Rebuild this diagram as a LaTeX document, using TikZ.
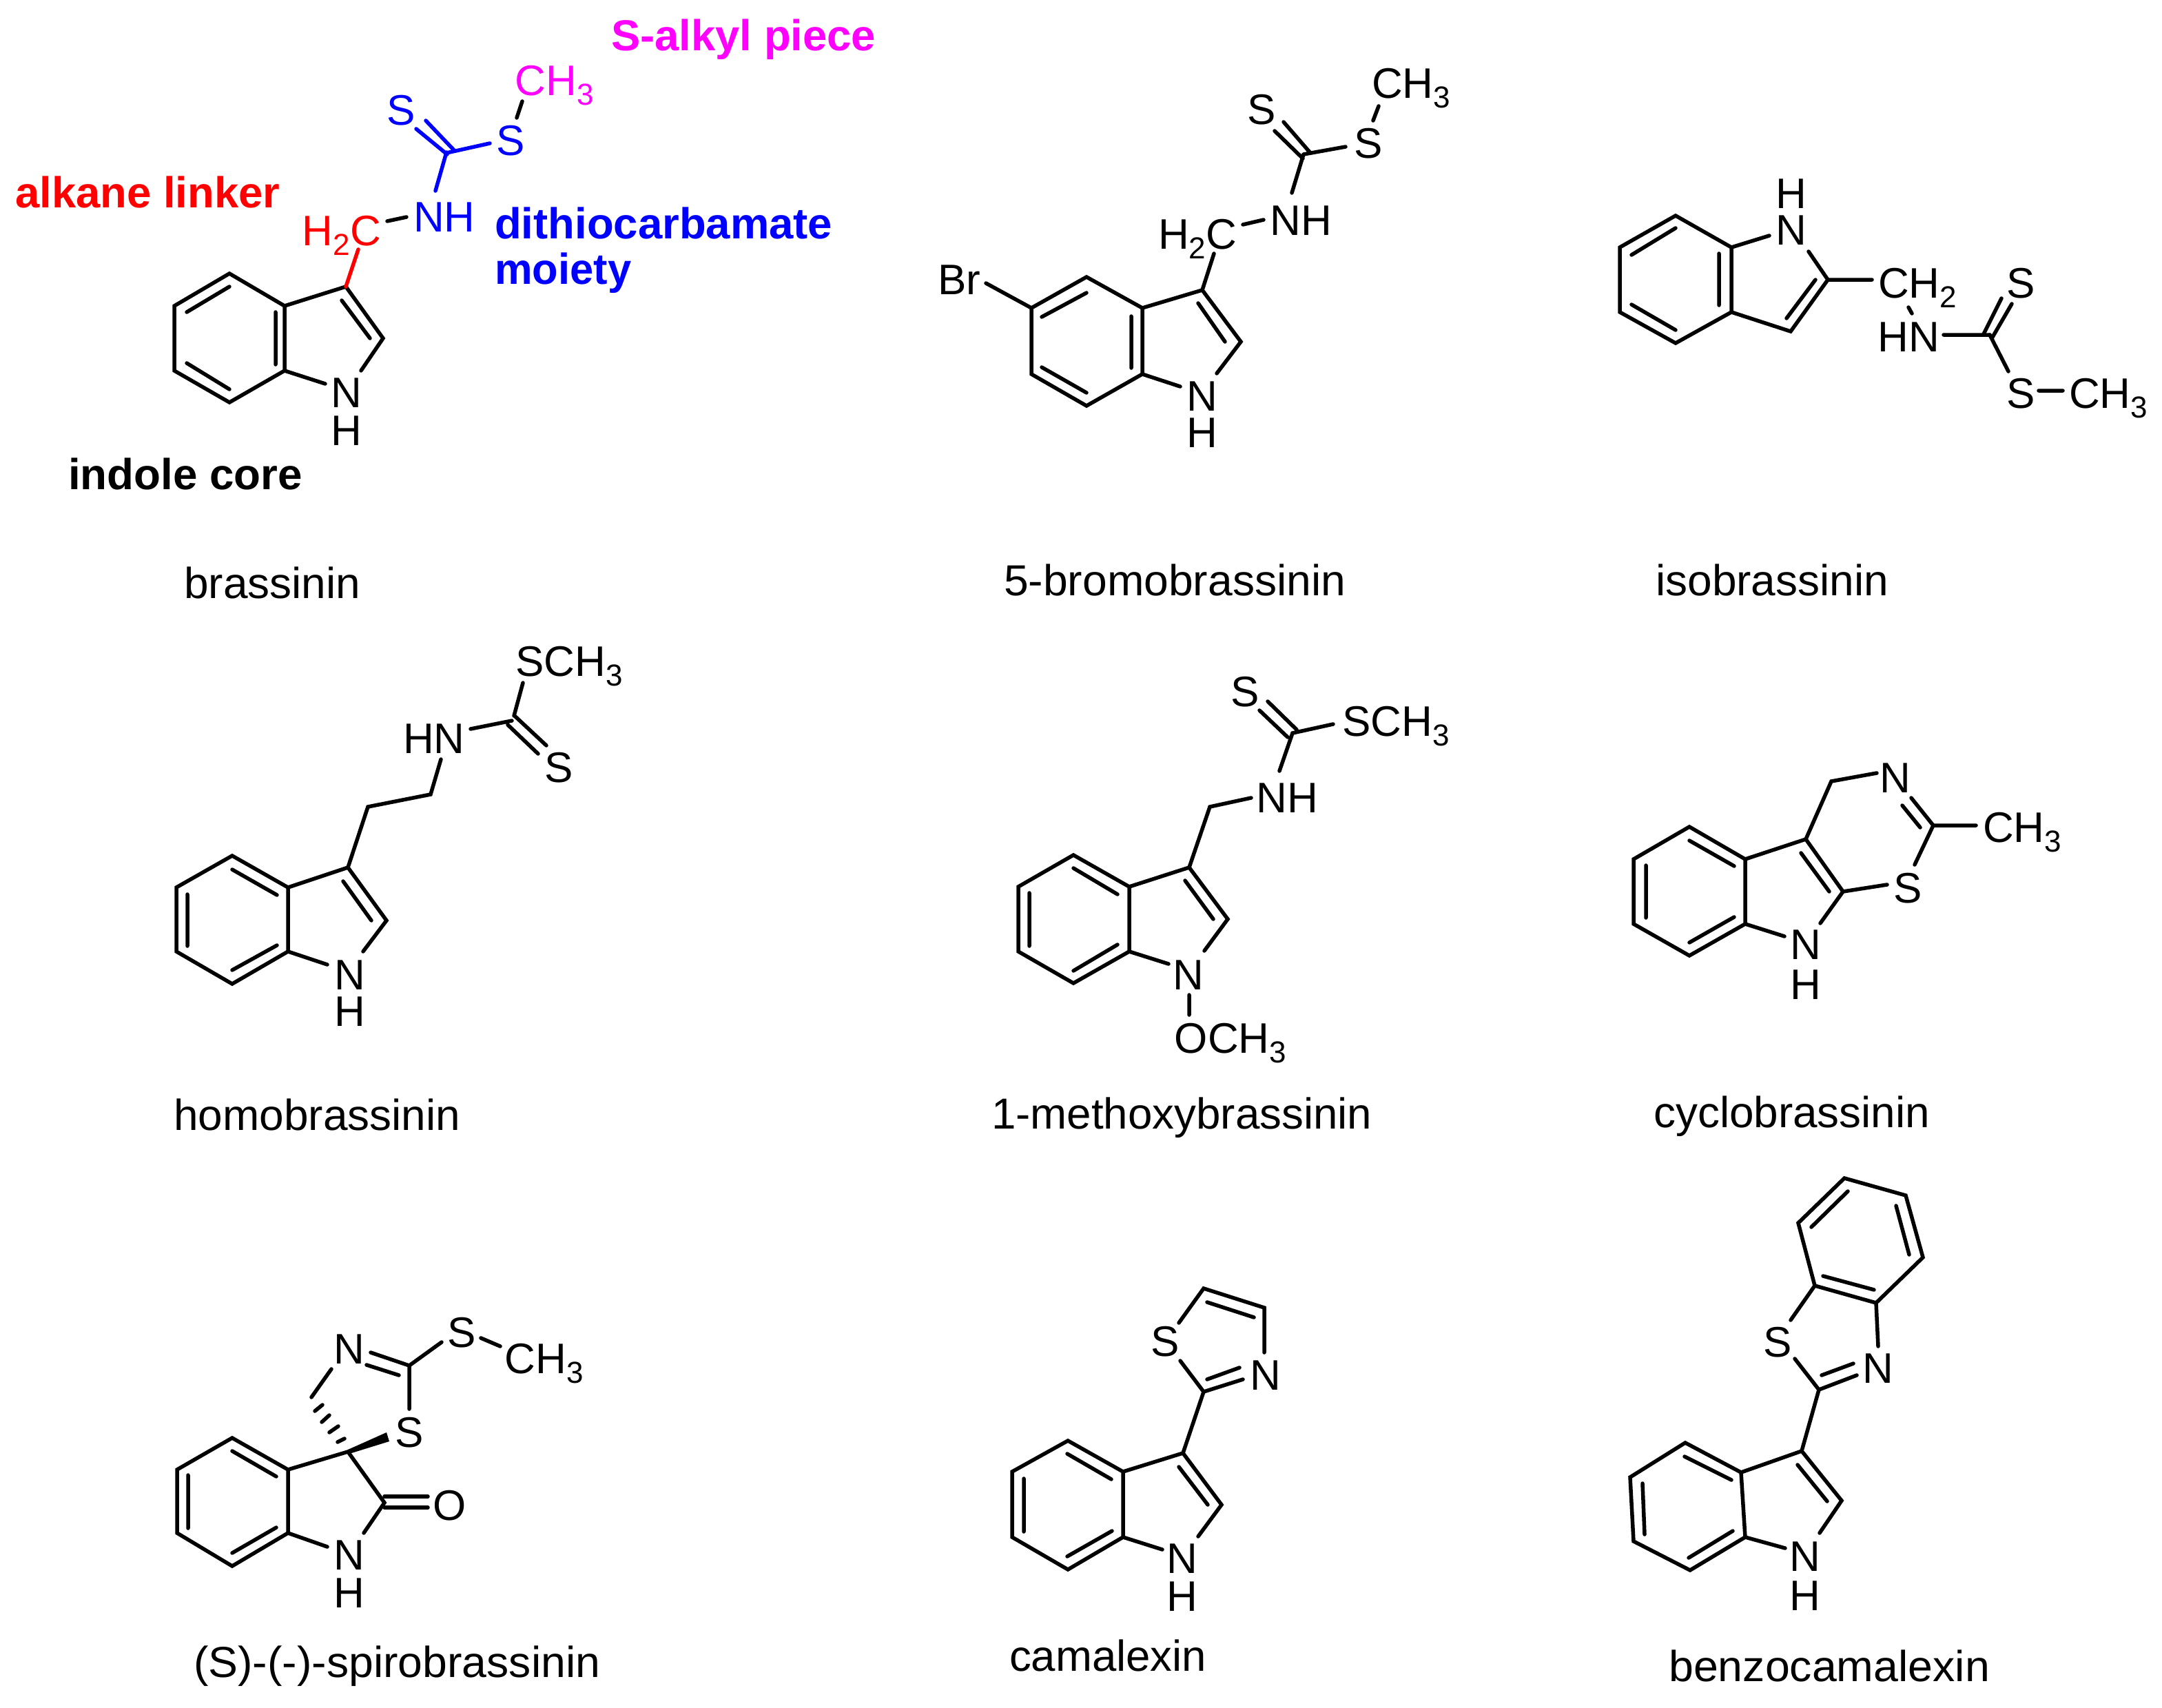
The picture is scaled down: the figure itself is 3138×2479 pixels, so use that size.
\documentclass[tikz,border=0pt]{standalone}
\usepackage{graphicx}
\usepackage{fontspec}
\setmainfont{Liberation Sans}
\newcommand\subn[1]{\raisebox{-14pt}{\fontsize{44}{44}\selectfont #1}}
\tikzset{
  bond/.style={line width=5.5pt,line cap=round,line join=miter,black},
  atom/.style={anchor=base,inner sep=0pt,font=\fontsize{62}{64}\selectfont,text=black},
  lab/.style={anchor=base west,inner sep=0pt,font=\fontsize{63}{65}\selectfont,text=black},
  blab/.style={anchor=base west,inner sep=0pt,font=\fontsize{63}{65}\selectfont\bfseries},
}
\definecolor{mag}{RGB}{255,0,255}
\begin{document}
\begin{tikzpicture}[x=1pt,y=-1pt]
\fill[white] (0,0) rectangle (3138,2479);
\useasboundingbox (0,0) rectangle (3138,2479);

% ---------- brassinin
\draw[bond] (253,444)--(333,397)--(413,444)--(413,538)--(333,584)--(253,538)--cycle;
\draw[bond] (271,453)--(333,416) (271,527)--(333,565) (400,453)--(400,529);
\draw[bond] (413,444)--(502,416)--(556,491)--(524,538) (413,538)--(472,557) (496,436)--(537,491);
\draw[bond,red] (502,416)--(520,362);
\draw[bond] (562,321)--(590,315);
\draw[bond,blue] (632,277)--(648,221) (649,224)--(604,187) (659,218)--(618,175) (648,222)--(711,208);
\draw[bond] (750,171)--(758,147);
\node[atom] (n1a) at (503,591) {N};
\node[atom] (h1a) at (503,646) {H};
\node[atom,text=red] (ch1) at (496,356) {H\subn{2}C};
\node[atom,text=blue] (nh1) at (645,336) {NH};
\node[atom,text=blue] (s1a) at (582,181) {S};
\node[atom,text=blue] (s1b) at (741,225) {S};
\node[atom,text=mag] (me1) at (805,138) {CH\subn{3}};
\node[blab,text=mag] (t1) at (887,73) {\resizebox{384pt}{\height}{S-alkyl piece}};
\node[blab,text=red] (t2) at (22,301) {\resizebox{384pt}{\height}{alkane linker}};
\node[blab,text=blue] (t3) at (718,346) {\resizebox{490pt}{\height}{dithiocarbamate}};
\node[blab,text=blue] (t4) at (718,412) {\resizebox{198pt}{\height}{moiety}};
\node[blab,text=black] (t5) at (99,710) {\resizebox{340pt}{\height}{indole core}};
\node[lab] (l1) at (267,868) {\resizebox{256pt}{\height}{brassinin}};

% ---------- 5-bromobrassinin
\draw[bond] (1497,447)--(1577,402)--(1658,447)--(1658,543)--(1577,589)--(1497,543)--cycle;
\draw[bond] (1512,460)--(1577,425) (1512,533)--(1577,570) (1642,459)--(1642,534);
\draw[bond] (1658,447)--(1745,421)--(1801,496)--(1766,542) (1658,543)--(1713,561) (1739,440)--(1778,496);
\draw[bond] (1431,411)--(1497,447) (1745,421)--(1762,368) (1804,326)--(1834,319);
\draw[bond] (1875,280)--(1892,224) (1891,230)--(1850,190) (1902,222)--(1863,177) (1892,224)--(1953,213) (1993,175)--(2001,154);
\node[atom] (n2a) at (1745,596) {N};
\node[atom] (h2a) at (1745,649) {H};
\node[atom] (br2) at (1392,427) {Br};
\node[atom] (ch2) at (1738,361) {H\subn{2}C};
\node[atom] (nh2) at (1888,341) {NH};
\node[atom] (s2a) at (1831,180) {S};
\node[atom] (s2b) at (1986,229) {S};
\node[atom] (me2) at (2048,142) {CH\subn{3}};
\node[lab] (l2) at (1457,864) {\resizebox{496pt}{\height}{5-bromobrassinin}};

% ---------- isobrassinin
\draw[bond] (2351,359)--(2432,313)--(2513,359)--(2513,453)--(2432,498)--(2351,453)--cycle;
\draw[bond] (2368,370)--(2432,331) (2368,442)--(2432,479) (2495,368)--(2495,443);
\draw[bond] (2513,359)--(2568,342) (2625,365)--(2653,406)--(2599,481)--(2513,453) (2635,406)--(2593,462);
\draw[bond] (2653,406)--(2717,406) (2770,446)--(2775,455) (2821,486)--(2888,486);
\draw[bond] (2879,485)--(2905,433) (2891,491)--(2920,441) (2888,486)--(2915,539) (2959,567)--(2994,567);
\node[atom] (n3a) at (2600,355) {N};
\node[atom] (h3a) at (2600,302) {H};
\node[atom] (ch3) at (2783,432) {CH\subn{2}};
\node[atom] (nh3) at (2770,510) {HN};
\node[atom] (s3a) at (2933,432) {S};
\node[atom] (s3b) at (2933,592) {S};
\node[atom] (me3) at (3060,592) {CH\subn{3}};
\node[lab] (l3) at (2403,864) {\resizebox{338pt}{\height}{isobrassinin}};

% ---------- homobrassinin
\draw[bond] (256,1288)--(337,1242)--(418,1288)--(418,1381)--(337,1428)--(256,1381)--cycle;
\draw[bond] (337,1262)--(402,1299) (337,1408)--(402,1372) (272,1298)--(272,1373);
\draw[bond] (418,1288)--(505,1259)--(561,1336)--(527,1381) (418,1381)--(475,1400) (498,1279)--(539,1336);
\draw[bond] (505,1259)--(534,1171)--(625,1153)--(640,1102);
\draw[bond] (683,1058)--(743,1046) (737,1052)--(781,1094) (748,1040)--(793,1082) (746,1039)--(759,991);
\node[atom] (n4a) at (508,1436) {N};
\node[atom] (h4a) at (508,1489) {H};
\node[atom] (nh4) at (630,1093) {HN};
\node[atom] (me4) at (826,981) {SCH\subn{3}};
\node[atom] (s4a) at (811,1135) {S};
\node[lab] (l4) at (252,1640) {\resizebox{416pt}{\height}{homobrassinin}};

% ---------- 1-methoxybrassinin
\draw[bond] (1478,1287)--(1558,1241)--(1639,1287)--(1639,1381)--(1558,1427)--(1478,1381)--cycle;
\draw[bond] (1558,1260)--(1622,1298) (1558,1409)--(1622,1371) (1494,1296)--(1494,1373);
\draw[bond] (1639,1287)--(1726,1259)--(1782,1334)--(1748,1380) (1639,1381)--(1696,1399) (1720,1278)--(1761,1334);
\draw[bond] (1726,1444)--(1726,1473) (1726,1259)--(1756,1171)--(1816,1158);
\draw[bond] (1857,1119)--(1876,1064)--(1935,1051) (1869,1070)--(1828,1031) (1882,1059)--(1840,1018);
\node[atom] (n5a) at (1725,1436) {N};
\node[atom] (o5) at (1786,1528) {OCH\subn{3}};
\node[atom] (nh5) at (1868,1179) {NH};
\node[atom] (s5a) at (1807,1025) {S};
\node[atom] (me5) at (2026,1068) {SCH\subn{3}};
\node[lab] (l5) at (1439,1638) {\resizebox{552pt}{\height}{1-methoxybrassinin}};

% ---------- cyclobrassinin
\draw[bond] (2371,1247)--(2452,1200)--(2533,1247)--(2533,1341)--(2452,1387)--(2371,1341)--cycle;
\draw[bond] (2452,1220)--(2517,1257) (2452,1368)--(2517,1331) (2389,1256)--(2389,1332);
\draw[bond] (2533,1247)--(2621,1218)--(2675,1294)--(2642,1340) (2533,1341)--(2590,1359) (2614,1238)--(2655,1294);
\draw[bond] (2621,1218)--(2658,1134)--(2724,1122) (2774,1158)--(2806,1198)--(2868,1198) (2761,1169)--(2787,1201);
\draw[bond] (2806,1198)--(2779,1255) (2675,1294)--(2739,1284);
\node[atom] (n6a) at (2621,1392) {N};
\node[atom] (h6a) at (2621,1450) {H};
\node[atom] (n6b) at (2751,1150) {N};
\node[atom] (s6a) at (2769,1310) {S};
\node[atom] (me6) at (2935,1222) {CH\subn{3}};
\node[lab] (l6) at (2400,1636) {\resizebox{401pt}{\height}{cyclobrassinin}};

% ---------- spirobrassinin
\draw[bond] (257,2133)--(337,2087)--(418,2133)--(418,2225)--(337,2273)--(257,2225)--cycle;
\draw[bond] (337,2106)--(401,2143) (337,2254)--(401,2217) (273,2141)--(273,2218);
\draw[bond] (418,2133)--(505,2107)--(558,2181)--(528,2225) (418,2225)--(475,2245);
\draw[bond] (558,2172)--(621,2172) (558,2188)--(621,2188);
\fill[black] (505,2104)--(561,2079)--(565,2092)--(507,2110)--cycle;
\draw[bond] (490,2093)--(500,2088) (478,2079)--(491,2070) (467,2064)--(478,2054) (457,2048)--(468,2039);
\draw[bond] (481,1987)--(452,2028) (538,1963)--(594,1982)--(594,2045) (532,1981)--(579,1996);
\draw[bond] (594,1982)--(641,1948) (698,1942)--(726,1954);
\node[atom] (n7a) at (507,2278) {N};
\node[atom] (h7a) at (507,2333) {H};
\node[atom] (o7) at (653,2206) {O};
\node[atom] (s7a) at (594,2100) {S};
\node[atom] (n7b) at (507,1979) {N};
\node[atom] (s7b) at (670,1955) {S};
\node[atom] (me7) at (790,1993) {CH\subn{3}};
\node[lab] (l7) at (281,2434) {\resizebox{590pt}{\height}{(S)-(-)-spirobrassinin}};

% ---------- camalexin
\draw[bond] (1469,2136)--(1550,2091)--(1630,2136)--(1630,2231)--(1550,2278)--(1469,2231)--cycle;
\draw[bond] (1549,2110)--(1613,2147) (1549,2259)--(1614,2222) (1486,2146)--(1486,2223);
\draw[bond] (1630,2136)--(1717,2109)--(1773,2184)--(1739,2230) (1630,2231)--(1687,2249) (1711,2129)--(1753,2184);
\draw[bond] (1717,2109)--(1747,2020)--(1713,1975) (1747,2020)--(1804,2002) (1752,2002)--(1799,1985);
\draw[bond] (1835,1963)--(1835,1898)--(1747,1870)--(1711,1920) (1752,1890)--(1820,1912);
\node[atom] (n8a) at (1716,2283) {N};
\node[atom] (h8a) at (1716,2338) {H};
\node[atom] (s8a) at (1691,1968) {S};
\node[atom] (n8b) at (1837,2017) {N};
\node[lab] (l8) at (1465,2425) {\resizebox{286pt}{\height}{camalexin}};

% ---------- benzocamalexin
\draw[bond] (2366,2144)--(2446,2094)--(2527,2137)--(2533,2231)--(2453,2279)--(2371,2237)--cycle;
\draw[bond] (2445,2114)--(2513,2148) (2451,2261)--(2515,2222) (2384,2153)--(2387,2227);
\draw[bond] (2527,2137)--(2615,2106)--(2673,2178)--(2641,2225) (2533,2231)--(2591,2247) (2609,2126)--(2652,2179);
\draw[bond] (2615,2106)--(2640,2017)--(2605,1972) (2640,2017)--(2695,1996) (2644,1996)--(2690,1979);
\draw[bond] (2726,1954)--(2723,1891);
\draw[bond] (2634,1866)--(2723,1891)--(2791,1825)--(2766,1735)--(2677,1710)--(2610,1775)--cycle;
\draw[bond] (2646,1852)--(2720,1872) (2752,1750)--(2771,1821) (2682,1729)--(2629,1781) (2634,1866)--(2599,1916);
\node[atom] (n9a) at (2620,2280) {N};
\node[atom] (h9a) at (2620,2337) {H};
\node[atom] (s9a) at (2580,1969) {S};
\node[atom] (n9b) at (2726,2007) {N};
\node[lab] (l9) at (2422,2440) {\resizebox{466pt}{\height}{benzocamalexin}};
\end{tikzpicture}
\end{document}
